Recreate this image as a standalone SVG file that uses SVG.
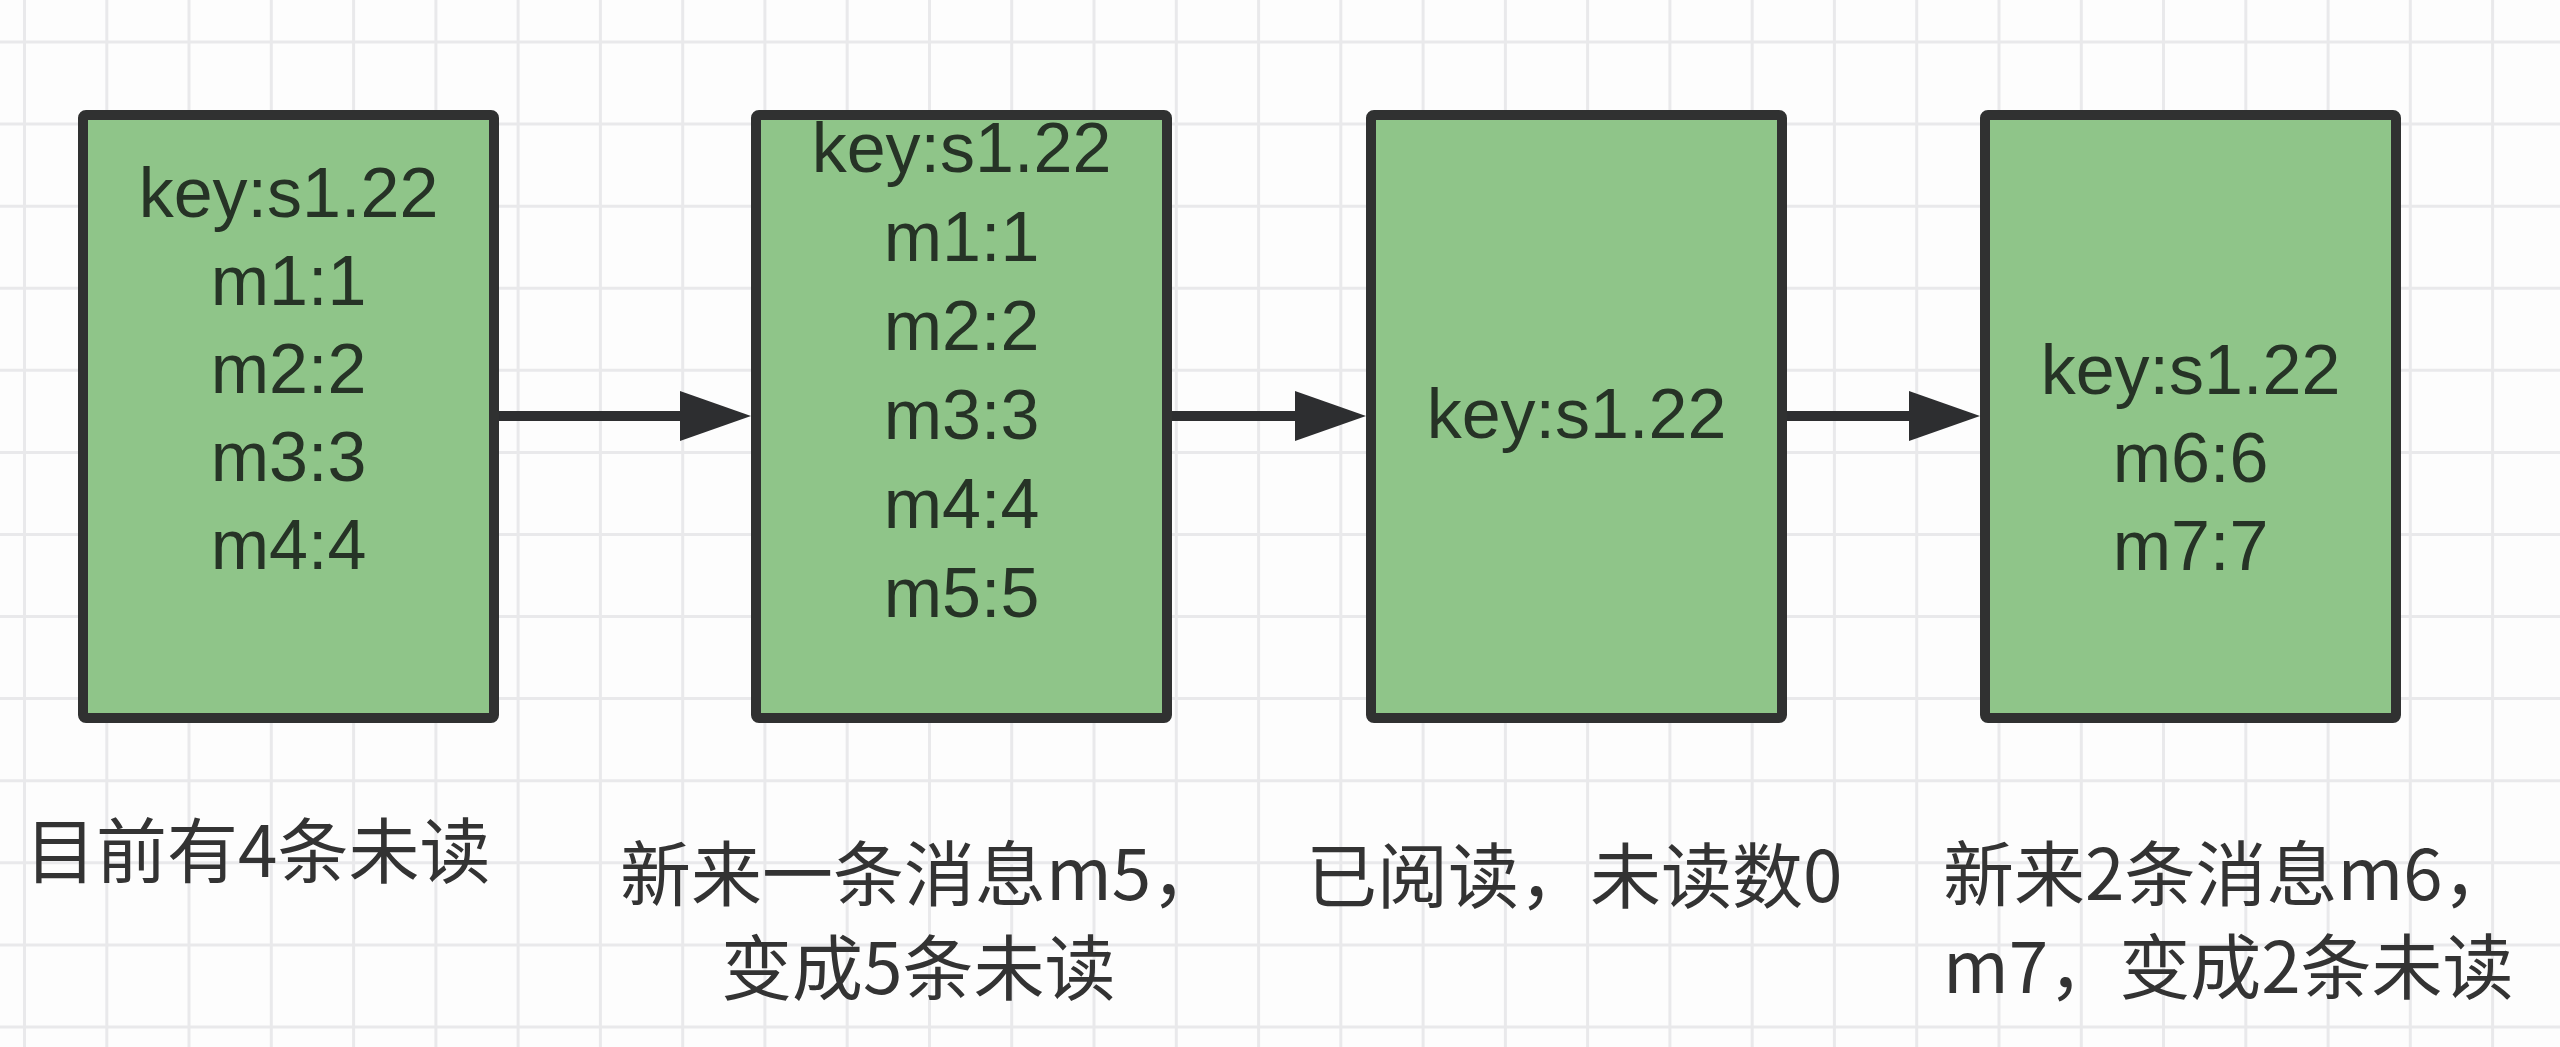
<svg xmlns="http://www.w3.org/2000/svg" width="2560" height="1047" viewBox="0 0 2560 1047">
  <style>
    .grid { stroke: #e9e9eb; stroke-width: 3; fill: none; }
    .box { fill: #8fc589; stroke: #303131; stroke-width: 10; }
    .btxt { font-family: "Liberation Sans", Arial, sans-serif; font-size: 70px; fill: #263326; text-anchor: middle; }
    .lbl { font-family: "Noto Sans CJK SC", "Noto Sans", sans-serif; font-size: 71px; fill: #333333; }
    .edge { stroke: #2d2e30; stroke-width: 10; fill: none; }
  </style>
  <defs>
    <marker id="arrow" markerUnits="userSpaceOnUse" markerWidth="71" markerHeight="50" refX="0" refY="25" orient="auto">
      <path d="M0,0 L71,25 L0,50 Z" fill="#2d2e30"/>
    </marker>
  </defs>
  <rect x="0" y="0" width="2560" height="1047" fill="#fdfdfd"/>
  <path class="grid" d="M24.5 0V1047M106.8 0V1047M189 0V1047M271.3 0V1047M353.6 0V1047M435.9 0V1047M518.1 0V1047M600.4 0V1047M682.7 0V1047M764.9 0V1047M847.2 0V1047M929.5 0V1047M1011.7 0V1047M1094 0V1047M1176.3 0V1047M1258.6 0V1047M1340.8 0V1047M1423.1 0V1047M1505.4 0V1047M1587.6 0V1047M1669.9 0V1047M1752.2 0V1047M1834.4 0V1047M1916.7 0V1047M1999 0V1047M2081.3 0V1047M2163.5 0V1047M2245.8 0V1047M2328.1 0V1047M2410.3 0V1047M2492.6 0V1047M0 42H2560M0 124.1H2560M0 206.2H2560M0 288.2H2560M0 370.3H2560M0 452.4H2560M0 534.5H2560M0 616.6H2560M0 698.6H2560M0 780.7H2560M0 862.8H2560M0 944.9H2560M0 1027H2560"/>

  <g id="connectors">
    <line class="edge" x1="499" y1="416" x2="680" y2="416" marker-end="url(#arrow)"/>
    <line class="edge" x1="1172" y1="416" x2="1295" y2="416" marker-end="url(#arrow)"/>
    <line class="edge" x1="1787" y1="416" x2="1909" y2="416" marker-end="url(#arrow)"/>
  </g>

  <g id="node1">
    <rect class="box" x="83" y="115" width="411" height="603" rx="3"/>
    <text class="btxt" x="288.5" y="217">key:s1.22</text>
    <text class="btxt" x="288.5" y="305">m1:1</text>
    <text class="btxt" x="288.5" y="393">m2:2</text>
    <text class="btxt" x="288.5" y="481">m3:3</text>
    <text class="btxt" x="288.5" y="569">m4:4</text>
  </g>
  <g id="node2">
    <rect class="box" x="756" y="115" width="411" height="603" rx="3"/>
    <text class="btxt" x="961.5" y="172">key:s1.22</text>
    <text class="btxt" x="961.5" y="261">m1:1</text>
    <text class="btxt" x="961.5" y="350">m2:2</text>
    <text class="btxt" x="961.5" y="439">m3:3</text>
    <text class="btxt" x="961.5" y="528">m4:4</text>
    <text class="btxt" x="961.5" y="617">m5:5</text>
  </g>
  <g id="node3">
    <rect class="box" x="1371" y="115" width="411" height="603" rx="3"/>
    <text class="btxt" x="1576.5" y="438">key:s1.22</text>
  </g>
  <g id="node4">
    <rect class="box" x="1985" y="115" width="411" height="603" rx="3"/>
    <text class="btxt" x="2190.5" y="394">key:s1.22</text>
    <text class="btxt" x="2190.5" y="482">m6:6</text>
    <text class="btxt" x="2190.5" y="570">m7:7</text>
  </g>

  <g id="label1">
    <text class="lbl" x="25" y="877">目前有4条未读</text>
  </g>
  <g id="label2">
    <text class="lbl" x="620" y="900">新来一条消息m5，<tspan x="721" y="994">变成5条未读</tspan></text>
  </g>
  <g id="label3">
    <text class="lbl" x="1306" y="902">已阅读，未读数0</text>
  </g>
  <g id="label4">
    <text class="lbl" x="1943" y="900">新来2条消息m6，<tspan x="1943" y="993">m7，变成2条未读</tspan></text>
  </g>
</svg>
